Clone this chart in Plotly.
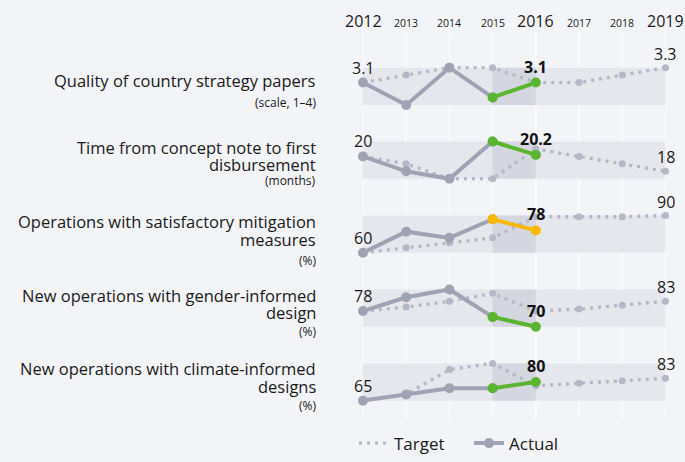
import plotly.graph_objects as go

years = [2012, 2013, 2014, 2015, 2016, 2017, 2018, 2019]
actual_years = [2012, 2013, 2014, 2015, 2016]

indicator_lines = [
    ["Quality of country strategy papers"],
    ["Time from concept note to first", "disbursement"],
    ["Operations with satisfactory mitigation", "measures"],
    ["New operations with gender-informed", "design"],
    ["New operations with climate-informed", "designs"],
]
units = ["(scale, 1–4)", "(months)", "(%)", "(%)", "(%)"]

quality_actual = [3.1, 2.8, 3.3, 2.9, 3.1]
quality_target = [3.1, 3.2, 3.3, 3.3, 3.1, 3.1, 3.2, 3.3]
time_actual = [20, 18, 17, 22, 20.2]
time_target = [20, 19, 17, 17, 21, 20, 19, 18]
mitig_actual = [60, 77, 72, 87, 78]
mitig_target = [60, 64, 68, 72, 89, 89, 89, 90]
gender_actual = [78, 85, 89, 75, 70]
gender_target = [78, 80, 83, 87, 78, 79, 81, 83]
climate_actual = [65, 70, 75, 75, 80]
climate_target = [65, 70, 90, 95, 77, 79, 81, 83]

actuals = [quality_actual, time_actual, mitig_actual, gender_actual, climate_actual]
targets = [quality_target, time_target, mitig_target, gender_target, climate_target]
highlight_colors = ["#5cb531", "#5cb531", "#f9b900", "#5cb531", "#5cb531"]
fmt = ["{:.1f}", "{:g}", "{:g}", "{:g}", "{:g}"]

BG = "#f3f4f8"
BAND = "#e6e7ed"
BAND_DARK = "#d5d7e0"
ACT = "#a0a3b4"
TGT = "#b5b8c6"
FONT = "Open Sans"
TXT = "#1a1a1a"

W, H = 685, 462
x0px, x1px = 363, 665.5
band_tops = [69, 144.3, 219.8, 295.2, 370.6]
band_h = 38
PADF = 0.15

fig = go.Figure()
layout_axes = {}
annotations = []
shapes = []

def py2paper(p):
    return 1 - p / H

for i in range(5):
    yname = "y" if i == 0 else f"y{i+1}"
    lname = "yaxis" if i == 0 else f"yaxis{i+1}"
    a = actuals[i]
    t = targets[i]
    lo = min(a + t)
    hi = max(a + t)
    pad = (hi - lo) * PADF
    top = band_tops[i] - band_h * PADF
    bot = band_tops[i] + band_h + band_h * PADF
    layout_axes[lname] = dict(domain=[py2paper(bot), py2paper(top)], range=[lo - pad, hi + pad],
                              visible=False, anchor="x", fixedrange=True)
    shapes.append(dict(type="rect", xref="x", yref=yname, x0=years[0], x1=years[-1], y0=lo, y1=hi,
                       fillcolor=BAND, line_width=0, layer="below"))
    shapes.append(dict(type="rect", xref="x", yref=yname, x0=years[3], x1=years[4], y0=lo, y1=hi,
                       fillcolor=BAND_DARK, line_width=0, layer="below"))
    fig.add_trace(go.Scatter(x=years, y=t, mode="lines+markers", xaxis="x", yaxis=yname,
                             line=dict(color=TGT, width=3.3, dash="3px,5px"),
                             marker=dict(color=TGT, size=7), cliponaxis=False, showlegend=False,
                             hoverinfo="skip"))
    fig.add_trace(go.Scatter(x=actual_years[:4], y=a[:4], mode="lines+markers", xaxis="x", yaxis=yname,
                             line=dict(color=ACT, width=4), marker=dict(color=ACT, size=10),
                             cliponaxis=False, showlegend=False, hoverinfo="skip"))
    fig.add_trace(go.Scatter(x=actual_years[3:], y=a[3:], mode="lines+markers", xaxis="x", yaxis=yname,
                             line=dict(color=highlight_colors[i], width=4),
                             marker=dict(color=highlight_colors[i], size=10),
                             cliponaxis=False, showlegend=False, hoverinfo="skip"))
    annotations.append(dict(x=years[0], y=a[0], xref="x", yref=yname, text=fmt[i].format(a[0]),
                            showarrow=False, yshift=15, font=dict(size=16, color=TXT, family=FONT)))
    annotations.append(dict(x=actual_years[-1], y=a[-1], xref="x", yref=yname,
                            text="<b>" + fmt[i].format(a[-1]) + "</b>",
                            showarrow=False, yshift=16, font=dict(size=16, color="#111111", family=FONT)))
    annotations.append(dict(x=years[-1], y=t[-1], xref="x", yref=yname, text=fmt[i].format(t[-1]),
                            showarrow=False, yshift=14, font=dict(size=16, color=TXT, family=FONT)))

label_line_px = [[82.5], [150.5, 167.5], [226.2, 244.3], [301.2, 318.5], [375.5, 393.7]]
unit_px = [104.5, 184, 265.5, 338.5, 413.5]
for i in range(5):
    for txt, p in zip(indicator_lines[i], label_line_px[i]):
        annotations.append(dict(x=318 / W, y=py2paper(p), xref="paper", yref="paper", text=txt,
                                showarrow=False, xanchor="right", yanchor="middle",
                                font=dict(size=16.5, color=TXT, family=FONT)))
    annotations.append(dict(x=318 / W, y=py2paper(unit_px[i]), xref="paper", yref="paper", text=units[i],
                            showarrow=False, xanchor="right", yanchor="middle",
                            font=dict(size=12, color=TXT, family=FONT)))

big_years = {2012, 2016, 2019}
for yr in years:
    big = yr in big_years
    annotations.append(dict(x=yr, y=py2paper(21.7 if big else 23.5), xref="x", yref="paper", text=str(yr),
                            showarrow=False, yanchor="middle",
                            font=dict(size=16 if big else 10.5, color=TXT, family=FONT)))
    shapes.append(dict(type="line", xref="x", yref="paper", x0=yr, x1=yr, y0=py2paper(427), y1=py2paper(33),
                       line=dict(color="white", width=1), layer="below"))

fig.add_trace(go.Scatter(x=[None], y=[None], mode="lines", name="Target",
                         line=dict(color=TGT, width=3.3, dash="3px,5px"), showlegend=True))
fig.add_trace(go.Scatter(x=[None], y=[None], mode="lines+markers", name="Actual",
                         line=dict(color=ACT, width=4), marker=dict(color=ACT, size=10), showlegend=True))

fig.update_layout(
    width=W, height=H, margin=dict(l=0, r=0, t=0, b=0),
    paper_bgcolor=BG, plot_bgcolor=BG,
    xaxis=dict(domain=[x0px / W, x1px / W], range=[years[0], years[-1]], visible=False, fixedrange=True),
    annotations=annotations, shapes=shapes,
    legend=dict(orientation="h", x=354 / W, y=py2paper(434), xanchor="left", yanchor="top",
                font=dict(size=17, color=TXT, family=FONT), bgcolor="rgba(0,0,0,0)",
                entrywidth=70, itemwidth=30),
    font=dict(family=FONT),
    hovermode=False,
    **layout_axes,
)

fig.write_html("out.html", config={"displayModeBar": False, "staticPlot": True},
               post_script="document.body.style.margin='0';document.body.style.overflow='hidden';")
